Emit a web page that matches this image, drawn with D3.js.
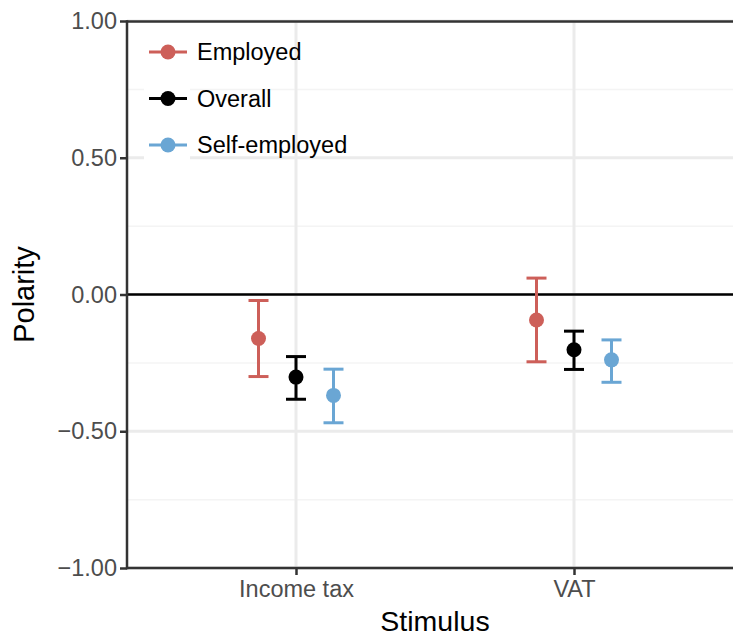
<!DOCTYPE html>
<html>
<head>
<meta charset="utf-8">
<script src="https://cdn.jsdelivr.net/npm/d3@7"></script>
<style>
  html, body { margin: 0; padding: 0; background: #fff; }
  svg { display: block; }
</style>
</head>
<body>
<div id="chart"></div>
<script>
const stimuli = ["Income tax", "VAT"];
const groups = ["Employed", "Overall", "Self-employed"];
const groupColors = ["#cd5f59", "#000000", "#6aa6d4"];

// polarity estimates and interval ends, one value per stimulus
const employedMean = [-0.161, -0.093];
const employedLow = [-0.300, -0.246];
const employedHigh = [-0.022, 0.060];
const overallMean = [-0.302, -0.202];
const overallLow = [-0.383, -0.274];
const overallHigh = [-0.227, -0.134];
const selfMean = [-0.369, -0.239];
const selfLow = [-0.469, -0.321];
const selfHigh = [-0.273, -0.166];

const yTicks = [-1, -0.5, 0, 0.5, 1];
const yMinor = [-0.75, -0.25, 0.25, 0.75];

const W = 733, H = 636;
const FONT = '"Liberation Sans", Arial, sans-serif';
const AXIS = "#333333";
const GRID = "#ebebeb";
const GRID_MINOR = "#f4f4f4";

const series = [
  { name: groups[0], color: groupColors[0], mean: employedMean, low: employedLow, high: employedHigh },
  { name: groups[1], color: groupColors[1], mean: overallMean, low: overallLow, high: overallHigh },
  { name: groups[2], color: groupColors[2], mean: selfMean, low: selfLow, high: selfHigh }
];

const panel = { left: 127, right: 741, top: 21, bottom: 568 };

const y = d3.scaleLinear().domain([-1, 1]).range([panel.bottom, panel.top]);
const x = d3.scalePoint().domain(stimuli).range([296, 574]);
const dodge = d3.scalePoint().domain(groups).range([-37.5, 37.5]);

const svg = d3.select("#chart").append("svg")
  .attr("width", W)
  .attr("height", H)
  .style("font-family", FONT);

// grid
const grid = svg.append("g");
grid.selectAll(".minor").data(yMinor).join("line")
  .attr("x1", panel.left).attr("x2", panel.right)
  .attr("y1", d => y(d)).attr("y2", d => y(d))
  .attr("stroke", GRID_MINOR).attr("stroke-width", 1.5);
grid.selectAll(".major").data(yTicks).join("line")
  .attr("x1", panel.left).attr("x2", panel.right)
  .attr("y1", d => y(d)).attr("y2", d => y(d))
  .attr("stroke", GRID).attr("stroke-width", 3);
grid.selectAll(".vmajor").data(stimuli).join("line")
  .attr("x1", d => x(d)).attr("x2", d => x(d))
  .attr("y1", panel.top).attr("y2", panel.bottom)
  .attr("stroke", GRID).attr("stroke-width", 3);

// reference lines at 0 and the top
svg.append("line")
  .attr("x1", panel.left).attr("x2", panel.right)
  .attr("y1", y(0)).attr("y2", y(0))
  .attr("stroke", "#000").attr("stroke-width", 2.5);
svg.append("line")
  .attr("x1", panel.left).attr("x2", panel.right)
  .attr("y1", y(1) + 0.5).attr("y2", y(1) + 0.5)
  .attr("stroke", AXIS).attr("stroke-width", 2.5);

// error bars and points
const capHalf = 10;
series.forEach(s => {
  const g = svg.append("g");
  const rows = stimuli.map((st, i) => ({ st, mean: s.mean[i], low: s.low[i], high: s.high[i] }));
  const cx = d => x(d.st) + dodge(s.name);
  g.selectAll(".stem").data(rows).join("line")
    .attr("x1", cx).attr("x2", cx)
    .attr("y1", d => y(d.low)).attr("y2", d => y(d.high))
    .attr("stroke", s.color).attr("stroke-width", 3);
  g.selectAll(".capLow").data(rows).join("line")
    .attr("x1", d => cx(d) - capHalf).attr("x2", d => cx(d) + capHalf)
    .attr("y1", d => y(d.low)).attr("y2", d => y(d.low))
    .attr("stroke", s.color).attr("stroke-width", 3);
  g.selectAll(".capHigh").data(rows).join("line")
    .attr("x1", d => cx(d) - capHalf).attr("x2", d => cx(d) + capHalf)
    .attr("y1", d => y(d.high)).attr("y2", d => y(d.high))
    .attr("stroke", s.color).attr("stroke-width", 3);
  g.selectAll("circle").data(rows).join("circle")
    .attr("cx", cx).attr("cy", d => y(d.mean))
    .attr("r", 7.5).attr("fill", s.color);
});

// axes
const yAxis = svg.append("g")
  .attr("transform", `translate(${panel.left},0)`)
  .call(d3.axisLeft(y).tickValues(yTicks).tickFormat(d3.format(".2f")).tickSize(7).tickPadding(3));
const xAxis = svg.append("g")
  .attr("transform", `translate(0,${panel.bottom})`)
  .call(d3.axisBottom(x).tickSize(7).tickPadding(5));

[yAxis, xAxis].forEach(a => {
  a.select(".domain").remove();
  a.selectAll(".tick line").attr("stroke", AXIS).attr("stroke-width", 2.5);
  a.selectAll(".tick text")
    .attr("fill", "#4d4d4d")
    .style("font-family", FONT)
    .style("font-size", "23.5px");
});

svg.append("line")
  .attr("x1", panel.left).attr("x2", panel.left)
  .attr("y1", panel.top - 0.75).attr("y2", panel.bottom + 1.25)
  .attr("stroke", AXIS).attr("stroke-width", 2.5);
svg.append("line")
  .attr("x1", panel.left).attr("x2", panel.right)
  .attr("y1", panel.bottom).attr("y2", panel.bottom)
  .attr("stroke", AXIS).attr("stroke-width", 2.5);

// axis titles
svg.append("text")
  .attr("x", (296 + 574) / 2).attr("y", 631)
  .attr("text-anchor", "middle")
  .attr("font-size", 28.5)
  .attr("fill", "#000")
  .text("Stimulus");
svg.append("text")
  .attr("transform", `translate(34,${y(0)}) rotate(-90)`)
  .attr("text-anchor", "middle")
  .attr("font-size", 29)
  .attr("fill", "#000")
  .text("Polarity");

// legend
const legend = svg.append("g");
legend.append("rect")
  .attr("x", 144).attr("y", 28).attr("width", 46).attr("height", 140)
  .attr("fill", "#fff");
const rowY = d3.scalePoint().domain(groups).range([52, 145]);
series.forEach(s => {
  const ry = rowY(s.name);
  legend.append("line")
    .attr("x1", 149).attr("x2", 187)
    .attr("y1", ry).attr("y2", ry)
    .attr("stroke", s.color).attr("stroke-width", 3);
  legend.append("circle")
    .attr("cx", 168).attr("cy", ry).attr("r", 7.5).attr("fill", s.color);
  legend.append("text")
    .attr("x", 197).attr("y", ry)
    .attr("dy", "0.36em")
    .attr("font-size", 23.5)
    .attr("fill", "#000")
    .text(s.name);
});
</script>
</body>
</html>
